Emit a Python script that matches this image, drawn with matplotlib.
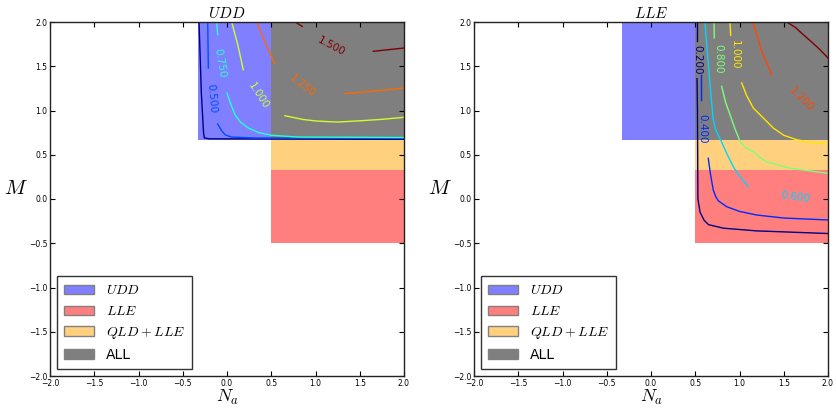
import matplotlib
matplotlib.use("Agg")
import matplotlib.pyplot as plt
import numpy as np

plt.rcParams['mathtext.fontset'] = 'cm'

# shaded regions (x range, y range)
region_names = ['$UDD$', '$LLE$', '$QLD+LLE$', 'ALL']
region_x = [(-1/3, 0.5), (0.5, 2.0), (0.5, 2.0), (0.5, 2.0)]
region_y = [(2/3, 2.0), (-0.5, 1/3), (1/3, 2/3), (2/3, 2.0)]
ticks = [-2.0, -1.5, -1.0, -0.5, 0.0, 0.5, 1.0, 1.5, 2.0]

# UDD panel contours: list of (Na, M) segments per level
udd_levels = [0.25, 0.50, 0.75, 1.00, 1.25, 1.50]
udd_c025 = [([-0.316, -0.29, -0.265, -0.256, -0.20, 2.0],
             [2.0, 1.2, 0.75, 0.69, 0.68, 0.675])]
udd_c050 = [([-0.218, -0.211], [2.0, 1.48]),
            ([-0.105, -0.06, -0.02, 0.05, 0.3, 2.0],
             [0.847, 0.77, 0.725, 0.70, 0.69, 0.685])]
udd_c075 = [([-0.116, -0.105], [2.0, 1.857]),
            ([0.0, 0.04, 0.09, 0.15, 0.241, 0.36, 0.505, 0.8, 2.0],
             [1.198, 1.08, 0.953, 0.87, 0.802, 0.75, 0.72, 0.70, 0.695])]
udd_c100 = [([0.053, 0.12, 0.184], [2.0, 1.75, 1.461]),
            ([0.655, 0.85, 1.0, 1.164, 1.258, 1.522, 1.75, 2.0],
             [0.941, 0.90, 0.882, 0.873, 0.87, 0.885, 0.90, 0.923])]
udd_c125 = [([0.336, 0.43, 0.535], [2.0, 1.77, 1.537]),
            ([1.333, 1.71, 2.0], [1.19, 1.224, 1.254])]
udd_c150 = [([0.77, 0.85], [2.0, 1.95]),
            ([1.653, 2.0], [1.669, 1.706])]

# LLE panel contours
lle_levels = [0.2, 0.4, 0.6, 0.8, 1.0, 1.2, 1.4]
lle_c02 = [([0.52, 0.52], [2.0, 1.78]),
           ([0.52, 0.525, 0.53, 0.555, 0.60, 0.65, 0.82, 1.19, 2.0],
            [1.36, 1.0, 0.0, -0.15, -0.24, -0.29, -0.33, -0.36, -0.39])]
lle_c04 = [([0.565, 0.565], [1.40, 1.12]),
           ([0.647, 0.672, 0.704, 0.73, 0.76, 0.855, 1.0, 1.194, 1.5, 2.0],
            [0.46, 0.28, 0.10, 0.03, -0.02, -0.087, -0.14, -0.181, -0.215, -0.237])]
lle_c06 = [([0.61, 0.625, 0.644, 0.667, 0.701, 0.725, 0.76, 0.80, 0.855, 0.93, 1.006, 1.10],
            [2.0, 1.8, 1.571, 1.292, 0.915, 0.80, 0.72, 0.64, 0.516, 0.365, 0.252, 0.139])]
lle_c08 = [([0.712, 0.715], [2.0, 1.82]),
           ([0.799, 0.84, 0.893, 0.95, 1.006, 1.07, 1.156, 1.23, 1.307, 1.571, 2.0],
            [1.273, 1.10, 0.953, 0.79, 0.652, 0.58, 0.535, 0.47, 0.421, 0.347, 0.29])]
lle_c10 = [([0.893, 0.90], [2.0, 1.85]),
           ([1.025, 1.08, 1.156, 1.269, 1.382, 1.5, 1.646, 1.8, 2.0],
            [1.311, 1.17, 1.028, 0.915, 0.802, 0.72, 0.670, 0.64, 0.625])]
lle_c12 = [([1.15, 1.20, 1.251, 1.364], [2.0, 1.84, 1.669, 1.405])]
lle_c14 = [([1.533, 1.63, 1.721, 1.82, 1.91, 2.0], [2.0, 1.94, 1.857, 1.77, 1.687, 1.593])]

udd_contours = [udd_c025, udd_c050, udd_c075, udd_c100, udd_c125, udd_c150]
lle_contours = [lle_c02, lle_c04, lle_c06, lle_c08, lle_c10, lle_c12, lle_c14]

# where the inline contour labels sit: (Na, M, rotation)
udd_labels = [None, (-0.173, 1.14, -85), (-0.079, 1.537, -80), (0.35, 1.164, -57),
              (0.853, 1.279, -38), (1.175, 1.725, -28)]
lle_labels = [(0.52, 1.57, -90), (0.578, 0.79, -90), (1.627, 0.026, -8),
              (0.763, 1.59, -90), (0.949, 1.63, -90), (1.695, 1.124, -45), None]

fill_colors = ['blue', 'red', 'orange', 'black']


def draw_panel(ax, title, levels, contours, labels, legend=True):
    for name, (x0, x1), (y0, y1), c in zip(region_names, region_x, region_y, fill_colors):
        ax.fill_between([x0, x1], [y0, y0], [y1, y1], color=c, alpha=0.5,
                        linewidth=0, label=name)
    norm = plt.Normalize(min(levels), max(levels))
    for lev, segs, lab in zip(levels, contours, labels):
        col = plt.cm.jet(norm(lev))
        for xs, ys in segs:
            ax.plot(xs, ys, color=col, lw=1.0)
        if lab is not None:
            ax.text(lab[0], lab[1], '%.3f' % lev, color=col, fontsize=7.5,
                    rotation=lab[2], ha='center', va='center',
                    rotation_mode='anchor')
    ax.set_xlim(-2, 2)
    ax.set_ylim(-2, 2)
    ax.set_xticks(ticks)
    ax.set_yticks(ticks)
    ax.tick_params(direction='in', top=True, right=True, length=3.5,
                   labelsize=5.5, pad=2, width=0.8)
    for sp in ax.spines.values():
        sp.set_linewidth(1.0)
        sp.set_color('#222222')
    ax.set_title(title, fontsize=11, pad=3)
    ax.set_xlabel('$N_a$', fontsize=13)
    ax.xaxis.set_label_coords(0.5, -0.035)
    ax.set_ylabel('$M$', fontsize=15, rotation=0, ha='center', va='center')
    ax.yaxis.set_label_coords(-0.095, 0.53)
    if legend:
        leg = ax.legend(loc='lower left', fontsize=10, fancybox=False,
                        handlelength=2.2, borderpad=0.5)
        leg.get_frame().set_edgecolor('black')
        leg.get_frame().set_linewidth(1.0)
        for h in leg.legend_handles:
            h.set_edgecolor('gray')
            h.set_linewidth(1.0)


fig = plt.figure(figsize=(8.36, 4.08), dpi=100)
ax1 = fig.add_axes([50/836, 32/408, 354/836, 354/408])
ax2 = fig.add_axes([474/836, 32/408, 354/836, 354/408])

draw_panel(ax1, '$UDD$', udd_levels, udd_contours, udd_labels)
draw_panel(ax2, '$LLE$', lle_levels, lle_contours, lle_labels)

fig.savefig('out.png', dpi=100)
